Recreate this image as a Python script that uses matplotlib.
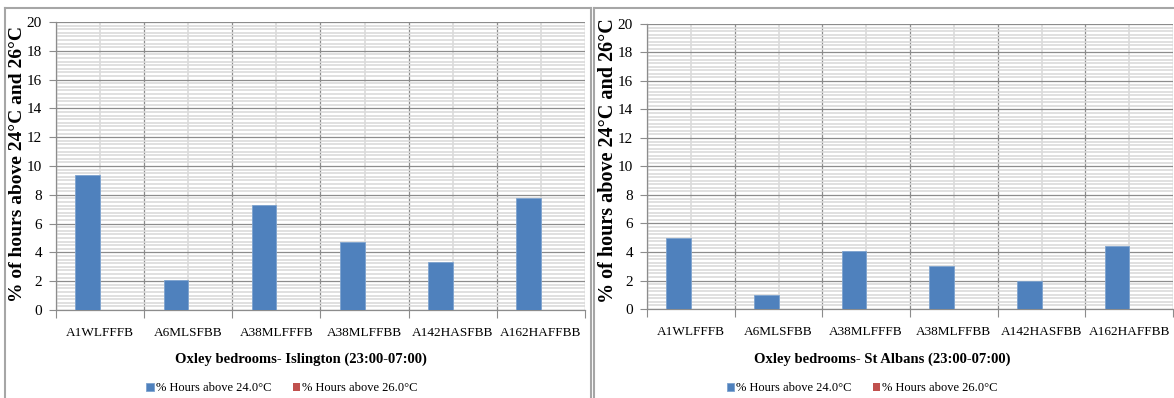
import numpy as np
import matplotlib
matplotlib.use("Agg")
import matplotlib.pyplot as plt
from matplotlib.lines import Line2D
from matplotlib.ticker import MultipleLocator, FixedLocator

# data
rooms = ["A1WLFFFB", "A6MLSFBB", "A38MLFFFB", "A38MLFFBB", "A142HASFBB", "A162HAFFBB"]
islington_24 = [9.4, 2.1, 7.3, 4.75, 3.35, 7.8]
islington_26 = [0, 0, 0, 0, 0, 0]
stalbans_24 = [5.0, 1.0, 4.1, 3.0, 2.0, 4.4]
stalbans_26 = [0, 0, 0, 0, 0, 0]
titles = ["Oxley bedrooms- Islington (23:00-07:00)", "Oxley bedrooms- St Albans (23:00-07:00)"]
series_names = ["% Hours above 24.0\u00b0C", "% Hours above 26.0\u00b0C"]
ylabel = "% of hours above 24\u00b0C and 26\u00b0C"

plt.rcParams['font.family'] = ['Liberation Serif', 'DejaVu Serif']

BLUE = "#4F81BD"
RED = "#C0504D"
GRID_DARK = "#8c8c8c"
GRID_LIGHT = "#dadada"

fig = plt.figure(figsize=(11.74, 3.98), dpi=100)

W, H = 1174, 398


def px_axes(x0, x1, ytop, ybot):
    return fig.add_axes([x0 / W, 1 - ybot / H, (x1 - x0) / W, (ybot - ytop) / H])


ax_l = px_axes(56, 585, 22, 310)
ax_r = px_axes(647, 1173, 24, 309)

setups = [
    (ax_l, islington_24, islington_26, titles[0], (0.463, -0.17), (-0.072, 0.507), 14, (0.427, -0.271)),
    (ax_r, stalbans_24, stalbans_26, titles[1], (0.447, -0.175), (-0.074, 0.52), 14.5, (0.409, -0.277)),
]

x = np.arange(len(rooms))
w = 0.28

for ax, s24, s26, title, xl_pos, yl_pos, yl_size, leg_pos in setups:
    b1 = ax.bar(x - w / 2, s24, w, color=BLUE, edgecolor="#7ea3cf", linewidth=0.6,
                label=series_names[0], zorder=3)
    b2 = ax.bar(x + w / 2, s26, w, color=RED, label=series_names[1], zorder=3)

    ax.set_xlim(-0.5, len(rooms) - 0.5)
    ax.set_ylim(0, 20)

    # y axis: major every 2, minor every 0.25
    ax.yaxis.set_major_locator(MultipleLocator(2))
    ax.yaxis.set_minor_locator(MultipleLocator(0.25))
    # x axis: boundaries major, centres minor (labels on centres)
    ax.xaxis.set_major_locator(FixedLocator(np.arange(-0.5, len(rooms), 1.0)))
    ax.xaxis.set_minor_locator(FixedLocator(x))
    ax.set_xticklabels([], minor=False)
    ax.set_xticklabels(rooms, minor=True)

    ax.grid(which="minor", color=GRID_LIGHT, linewidth=1.2, zorder=0)
    ax.grid(which="major", color=GRID_DARK, linewidth=0.9, zorder=1)
    ax.set_axisbelow(True)

    ax.tick_params(axis="y", which="major", length=5, color=GRID_DARK, labelsize=11, pad=5)
    ax.tick_params(axis="y", which="minor", length=0)
    ax.tick_params(axis="x", which="major", length=6, color=GRID_DARK)
    ax.tick_params(axis="x", which="minor", length=0, labelsize=9.5, pad=12)

    for side in ["top", "right"]:
        ax.spines[side].set_visible(False)
    for side in ["left", "bottom"]:
        ax.spines[side].set_color(GRID_DARK)
        ax.spines[side].set_linewidth(0.9)

    ax.set_xlabel(title, fontsize=10.5, fontweight="bold")
    ax.xaxis.set_label_coords(*xl_pos)
    ax.xaxis.label.set_va("center")
    ax.set_ylabel(ylabel, fontsize=yl_size, fontweight="bold")
    ax.yaxis.set_label_coords(*yl_pos)
    ax.yaxis.label.set_va("center")

    ax.legend(handles=[b1, b2], loc="center", bbox_to_anchor=leg_pos, ncol=2,
              frameon=False, fontsize=9, handlelength=0.6, handleheight=0.6,
              handletextpad=0.15, columnspacing=1.7)

# panel frames
frame_c = "#a6a6a6"
top = 1 - 8 / H
for x0, x1 in [(5, 591), (594, 1174)]:
    fig.add_artist(Line2D([x0 / W, x0 / W], [0, top], color=frame_c, lw=1.5))
    fig.add_artist(Line2D([x0 / W, x1 / W], [top, top], color=frame_c, lw=1.5))
fig.add_artist(Line2D([591 / W, 591 / W], [0, top], color=frame_c, lw=1.5))

fig.savefig("out.png", dpi=100)
